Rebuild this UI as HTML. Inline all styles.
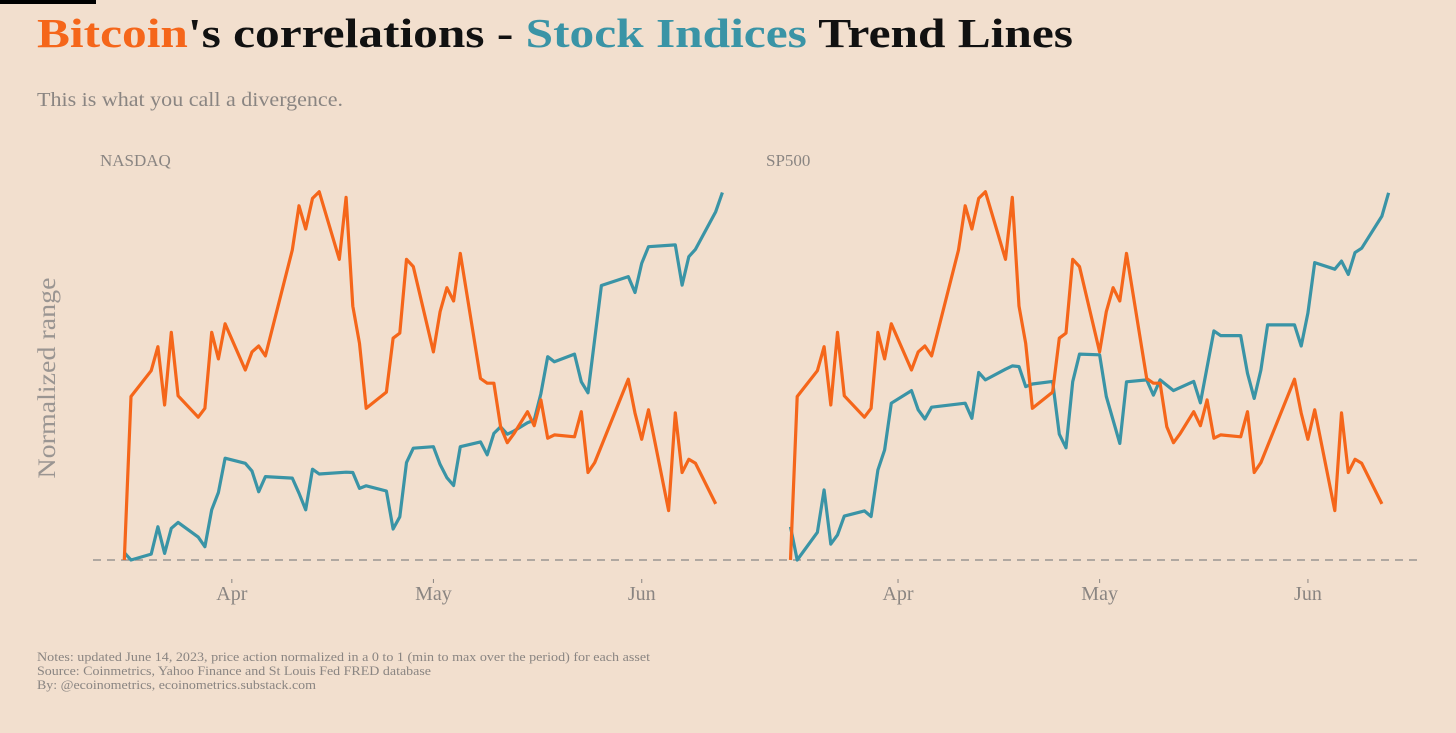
<!DOCTYPE html>
<html><head><meta charset="utf-8"><style>
html,body{margin:0;padding:0;background:#f2dfce;}
svg{display:block;font-family:"Liberation Serif","DejaVu Serif",serif;}
</style></head><body>
<svg id="chart" width="1456" height="733" viewBox="0 0 1456 733" xmlns="http://www.w3.org/2000/svg">
<rect width="1456" height="733" fill="#f2dfce"/>
<rect x="0" y="0" width="96" height="4" fill="#000"/>
<text x="37" y="47" font-size="41" font-weight="bold" textLength="1036" lengthAdjust="spacingAndGlyphs"><tspan fill="#f5661a">Bitcoin</tspan><tspan fill="#111">'s correlations - </tspan><tspan fill="#3a94a6">Stock Indices</tspan><tspan fill="#111"> Trend Lines</tspan></text>
<text x="37" y="106" font-size="20" fill="#8a8582" textLength="306" lengthAdjust="spacingAndGlyphs">This is what you call a divergence.</text>
<text x="100" y="166" font-size="17" fill="#8a8582">NASDAQ</text>
<text x="766" y="166" font-size="17" fill="#8a8582">SP500</text>
<text transform="translate(55,378) rotate(-90)" text-anchor="middle" font-size="25" fill="#9a9592" textLength="201" lengthAdjust="spacingAndGlyphs">Normalized range</text>
<line x1="93" y1="560" x2="1420" y2="560" stroke="#9a9592" stroke-width="1.5" stroke-dasharray="8,6"/>
<g id="plots"></g>
<text x="37" y="661" font-size="13" fill="#8a8582" textLength="613" lengthAdjust="spacingAndGlyphs">Notes: updated June 14, 2023, price action normalized in a 0 to 1 (min to max over the period) for each asset</text>
<text x="37" y="675" font-size="13" fill="#8a8582" textLength="394" lengthAdjust="spacingAndGlyphs">Source: Coinmetrics, Yahoo Finance and St Louis Fed FRED database</text>
<text x="37" y="689" font-size="13" fill="#8a8582" textLength="279" lengthAdjust="spacingAndGlyphs">By: @ecoinometrics, ecoinometrics.substack.com</text>
</svg>
<script>
// day offsets from Mar 16, 2023
const tickDays = [16, 46, 77];
const tickLabels = ["Apr", "May", "Jun"];
const btcDays = [0,1,4,5,6,7,8,11,12,13,14,15,18,19,20,21,25,26,27,28,29,32,33,34,35,36,39,40,41,42,43,46,47,48,49,50,53,54,55,56,57,58,60,61,62,63,64,67,68,69,70,75,76,77,78,81,82,83,84,85,88];
const btcVals = [0,0.443,0.513,0.578,0.420,0.617,0.445,0.387,0.411,0.617,0.545,0.640,0.515,0.564,0.580,0.553,0.840,0.960,0.897,0.980,0.998,0.815,0.983,0.688,0.587,0.411,0.455,0.601,0.615,0.815,0.795,0.564,0.673,0.738,0.702,0.831,0.492,0.479,0.479,0.361,0.318,0.343,0.402,0.364,0.434,0.330,0.339,0.334,0.402,0.237,0.264,0.490,0.398,0.327,0.407,0.134,0.399,0.237,0.273,0.262,0.152];
const ndxDays = [0,1,4,5,6,7,8,11,12,13,14,15,18,19,20,21,25,26,27,28,29,33,34,35,36,39,40,41,42,43,46,47,48,49,50,53,54,55,56,57,58,60,61,62,63,64,67,68,69,71,75,76,77,78,82,83,84,85,88,89];
const ndxVals = [0.020,0,0.016,0.090,0.018,0.086,0.102,0.062,0.036,0.136,0.183,0.276,0.262,0.241,0.185,0.226,0.222,0.181,0.136,0.246,0.233,0.238,0.237,0.194,0.201,0.187,0.084,0.117,0.264,0.303,0.307,0.259,0.223,0.202,0.307,0.320,0.285,0.343,0.361,0.341,0.350,0.372,0.379,0.451,0.551,0.537,0.558,0.483,0.453,0.744,0.768,0.725,0.804,0.849,0.854,0.745,0.822,0.842,0.944,0.996];
const spxDays = [0,1,4,5,6,7,8,11,12,13,14,15,18,19,20,21,26,27,28,29,32,33,34,35,36,39,40,41,42,43,46,47,49,50,53,54,55,57,60,61,63,64,67,68,69,70,71,75,76,77,78,81,82,83,84,85,88,89];
const spxVals = [0.090,0,0.075,0.190,0.043,0.068,0.119,0.133,0.118,0.244,0.298,0.425,0.459,0.407,0.382,0.414,0.425,0.384,0.508,0.488,0.517,0.526,0.524,0.470,0.477,0.484,0.341,0.304,0.483,0.558,0.556,0.443,0.316,0.483,0.488,0.447,0.488,0.459,0.484,0.426,0.621,0.608,0.608,0.506,0.438,0.515,0.637,0.637,0.580,0.669,0.806,0.788,0.810,0.774,0.833,0.845,0.932,0.995];

const NS = "http://www.w3.org/2000/svg";
const g = document.getElementById('plots');
const pxPerDay = 6.72;
const yScale = v => 560 - v * 369;
const panels = [
  {x0: 124.3, stock: [ndxDays, ndxVals], name: 'nasdaq'},
  {x0: 790.5, stock: [spxDays, spxVals], name: 'sp500'}
];
function line(days, vals, xs, color, name) {
  const p = document.createElementNS(NS, 'path');
  
  
  p.setAttribute('d', days.map((d, i) => (i ? 'L' : 'M') + xs(d).toFixed(1) + ',' + yScale(vals[i]).toFixed(1)).join(''));
  p.setAttribute('fill', 'none');
  p.setAttribute('stroke', color);
  p.setAttribute('stroke-width', '3.2');
  p.setAttribute('stroke-linejoin', 'round');
  g.appendChild(p);
}
panels.forEach(pn => {
  const xs = d => pn.x0 + d * pxPerDay;
  tickDays.forEach((d, i) => {
    const t = document.createElementNS(NS, 'text');
    
    
    t.setAttribute('x', xs(d));
    t.setAttribute('y', 600);
    t.setAttribute('text-anchor', 'middle');
    t.setAttribute('font-size', '20');
    t.setAttribute('fill', '#8a8582');
    t.textContent = tickLabels[i];
    g.appendChild(t);
    const m = document.createElementNS(NS, 'line');
    
    
    m.setAttribute('x1', xs(d)); m.setAttribute('x2', xs(d));
    m.setAttribute('y1', 579); m.setAttribute('y2', 583);
    m.setAttribute('stroke', '#8a8582');
    g.appendChild(m);
  });
  line(pn.stock[0], pn.stock[1], xs, '#3a94a6', pn.name + '-line');
  line(btcDays, btcVals, xs, '#f5661a', 'bitcoin-line-' + pn.name);
});
</script>
</body></html>
